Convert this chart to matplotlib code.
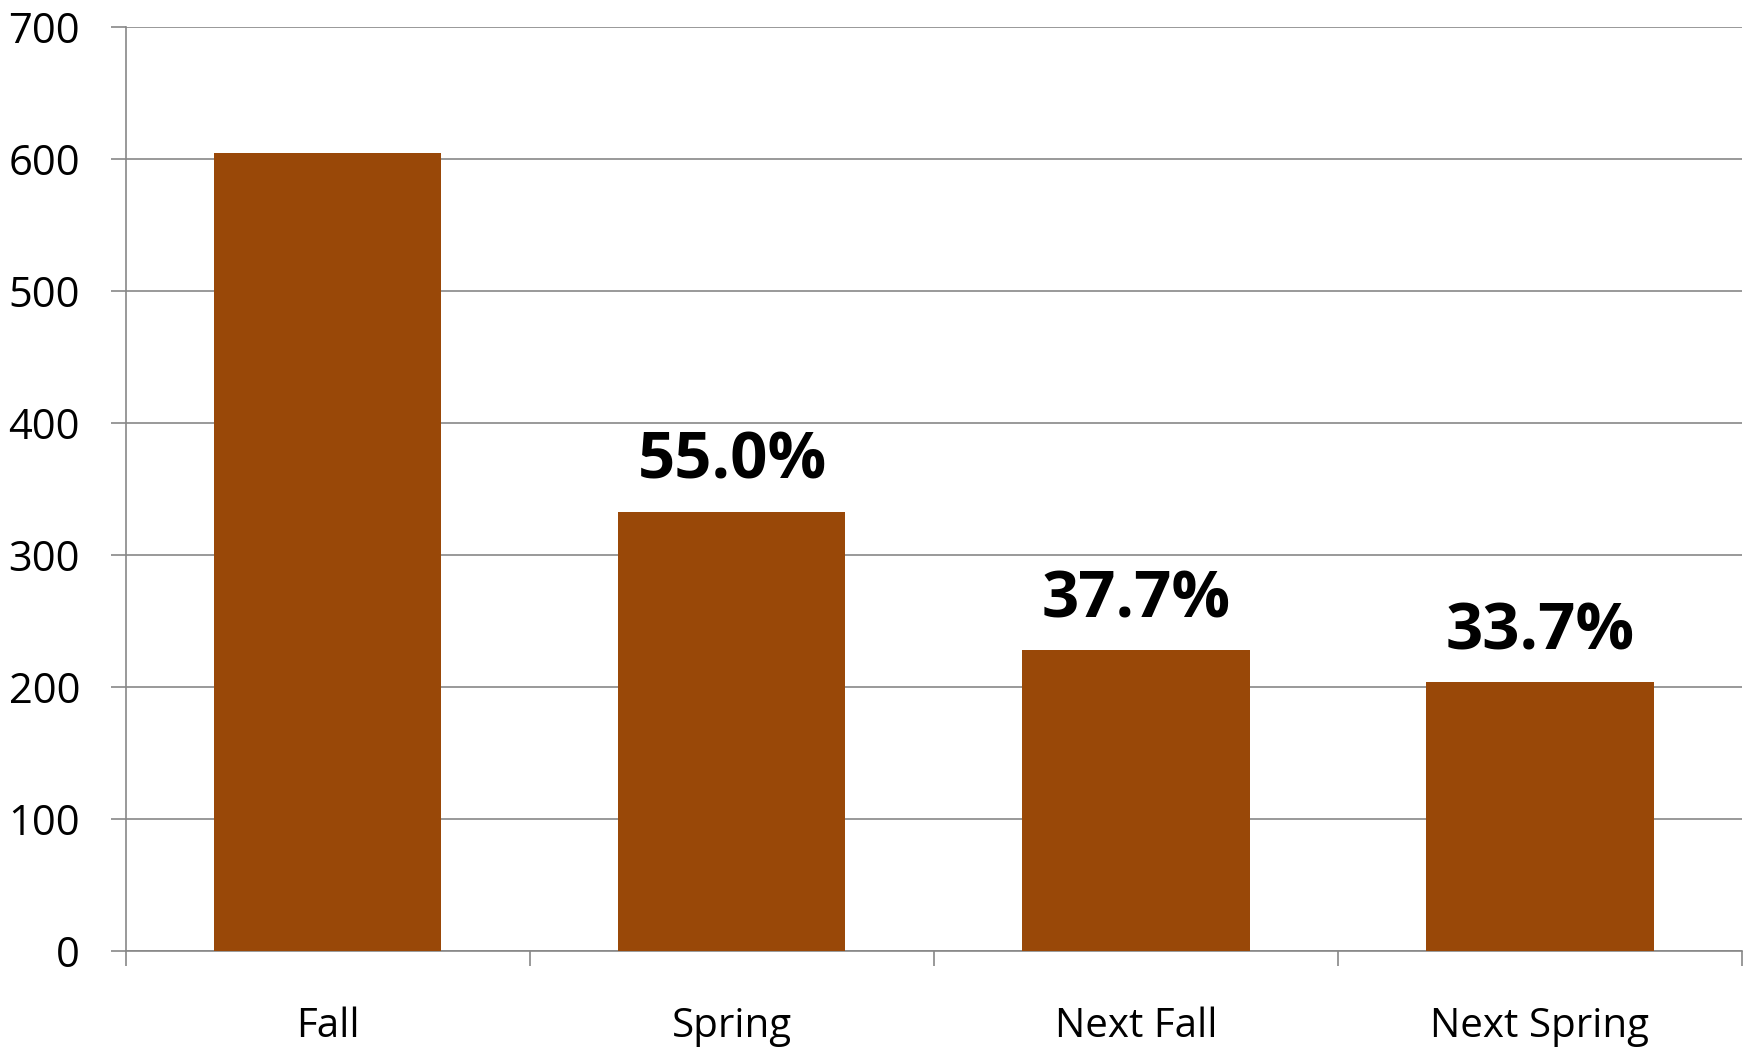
import matplotlib
matplotlib.use("Agg")
import matplotlib.pyplot as plt
import numpy as np

categories = ["Fall", "Spring", "Next Fall", "Next Spring"]
values = [605, 333, 228, 204]
pct_labels = ["", "55.0%", "37.7%", "33.7%"]
yticks = [0, 100, 200, 300, 400, 500, 600, 700]

plt.rcParams['font.family'] = ['Open Sans', 'DejaVu Sans']

fig = plt.figure(figsize=(17.49, 10.52), dpi=100)
ax = fig.add_axes([0.072, 0.096, 0.924, 0.878])

gray = "#878787"
x = np.arange(len(categories))
ax.bar(x, values, width=0.562, color="#994808", zorder=3)

ax.set_xlim(-0.5, len(categories) - 0.5)
ax.set_ylim(0, 700)
ax.set_yticks(yticks)
ax.yaxis.grid(True, color=gray, linewidth=1.2, zorder=0)
ax.set_axisbelow(True)

ax.set_xticks(x)
ax.set_xticklabels(categories)
ax.set_xticks(np.arange(-0.5, len(categories), 1.0), minor=True)
ax.tick_params(axis='x', which='major', length=0, pad=40, labelsize=29)
ax.tick_params(axis='x', which='minor', length=10.5, width=1.2, color=gray, direction='out')
ax.tick_params(axis='y', length=11, width=1.2, color=gray, pad=22, labelsize=30)

for s in ["top", "right"]:
    ax.spines[s].set_visible(False)
for s in ["left", "bottom"]:
    ax.spines[s].set_color(gray)
    ax.spines[s].set_linewidth(1.2)

for xi, v, lab in zip(x, values, pct_labels):
    if lab:
        ax.annotate(lab, (xi, v), xytext=(0, 12), textcoords='offset points',
                    ha='center', va='bottom', fontsize=47, fontweight='bold')

fig.savefig("out.png", dpi=100)
